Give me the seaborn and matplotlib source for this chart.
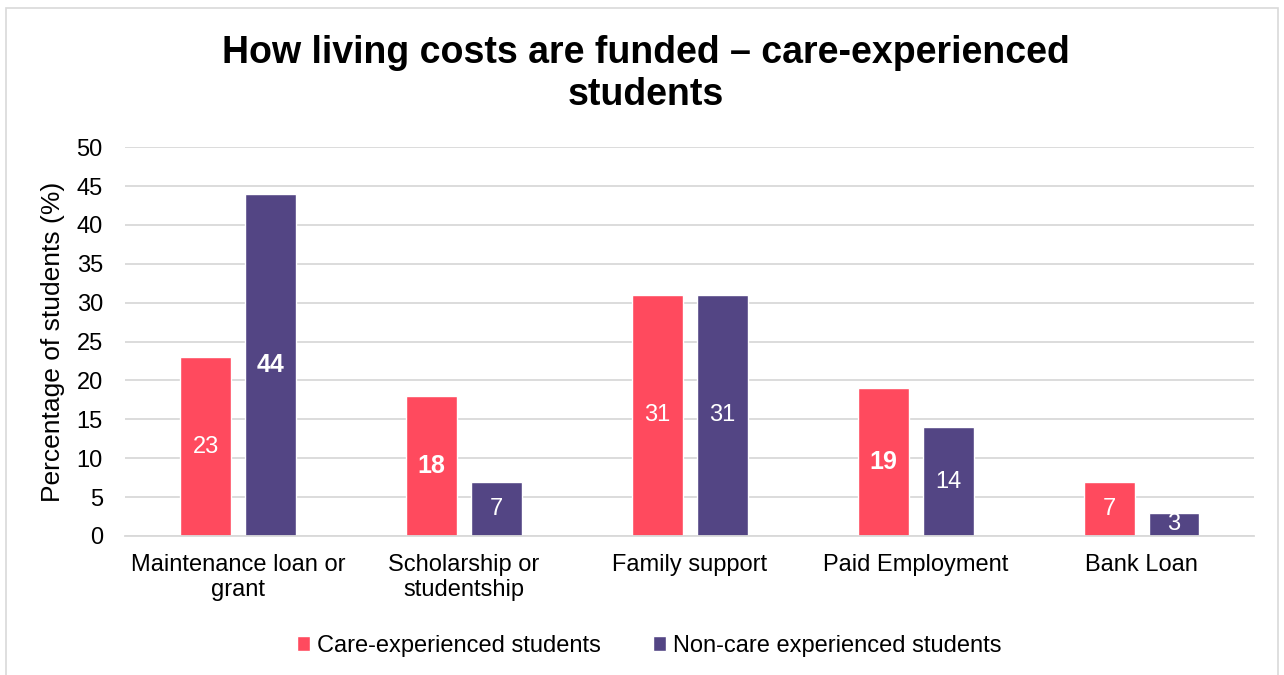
import pandas as pd
import seaborn as sns
import matplotlib.pyplot as plt
from matplotlib.patches import Rectangle

# Chart data
categories = ["Maintenance loan or\ngrant", "Scholarship or\nstudentship", "Family support",
              "Paid Employment", "Bank Loan"]
care = [23, 18, 31, 19, 7]
non_care = [44, 7, 31, 14, 3]
groups = ["Care-experienced students", "Non-care experienced students"]
bold_labels = {(0, 1), (1, 0), (3, 0)}  # (category, group) shown in bold

df = pd.DataFrame({
    "category": categories * 2,
    "group": [groups[0]] * len(categories) + [groups[1]] * len(categories),
    "value": care + non_care,
})

sns.set_theme(style="white")
plt.rcParams['font.family'] = ['Liberation Sans', 'DejaVu Sans']
plt.rcParams['text.color'] = 'black'

palette = {groups[0]: "#FF4A5E", groups[1]: "#534584"}

fig = plt.figure(figsize=(12.84, 6.75), dpi=100)
ax = fig.add_axes([0.0974, 0.206, 0.8796, 0.576])

sns.barplot(data=df, x="category", y="value", hue="group", palette=palette,
            order=categories, hue_order=groups, width=0.575, gap=0.215,
            saturation=1, ax=ax)

ax.set_ylim(0, 50)
ax.set_yticks(range(0, 51, 5))
ax.yaxis.grid(True, color="#D9D9D9", linewidth=1.3)
ax.set_axisbelow(True)
for s in ["top", "right", "left"]:
    ax.spines[s].set_visible(False)
ax.spines["bottom"].set_color("#D9D9D9")
ax.spines["bottom"].set_linewidth(1.3)
ax.tick_params(axis="both", length=0, labelsize=17, colors="black")
ax.tick_params(axis="x", pad=13)
ax.tick_params(axis="y", pad=16)
ax.set_xlabel("")
ax.set_ylabel("Percentage of students (%)", fontsize=19, color="black", labelpad=8)

# value labels in the middle of each bar
for gi, cont in enumerate(ax.containers):
    for ci, bar in enumerate(cont):
        h = bar.get_height()
        bold = (ci, gi) in bold_labels
        ax.text(bar.get_x() + bar.get_width() / 2, h / 2, f"{h:.0f}",
                ha="center", va="center", color="white",
                fontsize=18 if bold else 17,
                fontweight="heavy" if bold else "normal")

ax.legend(loc="upper center", bbox_to_anchor=(0.464, -0.20), ncol=2, frameon=False,
          fontsize=17, handlelength=0.55, handleheight=0.55, handletextpad=0.3,
          columnspacing=2.2)

fig.suptitle("How living costs are funded \u2013 care-experienced\nstudents",
             fontsize=27, fontweight="bold", y=0.948, x=0.503, color="black")

fig.patches.append(Rectangle((0.005, -0.02), 0.99, 1.008, transform=fig.transFigure,
                             fill=False, edgecolor="#D9D9D9", linewidth=1.2))

fig.savefig("out.png", dpi=100, facecolor="white")
